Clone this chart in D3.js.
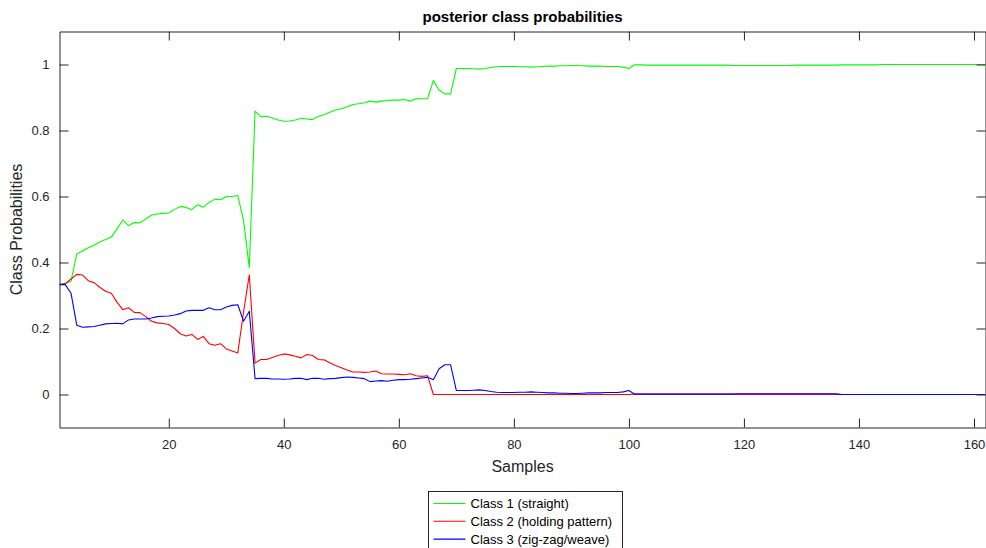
<!DOCTYPE html>
<html>
<head>
<meta charset="utf-8">
<script src="https://cdn.jsdelivr.net/npm/d3@7"></script>
<style>
  html, body { margin: 0; padding: 0; background: #fff; }
  svg { display: block; font-family: Arial, "Liberation Sans", Helvetica, sans-serif; }
</style>
</head>
<body>
<svg id="chart" width="986" height="548"></svg>
<script>
// Posterior class probabilities per sample (samples 1..162)
const classNames = ["Class 1 (straight)", "Class 2 (holding pattern)", "Class 3 (zig-zag/weave)"];
const classColors = ["#00ff00", "#ff0000", "#0000ff"];

const class1 = [
  0.333,0.336,0.343,0.426,0.435,0.445,0.452,0.462,0.470,0.477,
  0.502,0.529,0.512,0.521,0.520,0.532,0.544,0.547,0.549,0.550,
  0.561,0.570,0.567,0.560,0.575,0.568,0.582,0.592,0.590,0.600,
  0.600,0.603,0.527,0.384,0.859,0.842,0.843,0.838,0.832,0.828,
  0.829,0.832,0.837,0.835,0.833,0.843,0.848,0.855,0.862,0.866,
  0.872,0.879,0.881,0.884,0.889,0.886,0.889,0.891,0.892,0.892,
  0.894,0.889,0.896,0.896,0.896,0.952,0.922,0.911,0.911,0.988,
  0.988,0.988,0.987,0.986,0.988,0.991,0.993,0.994,0.994,0.994,
  0.993,0.993,0.992,0.993,0.994,0.995,0.995,0.996,0.996,0.997,
  0.997,0.996,0.995,0.995,0.995,0.994,0.994,0.994,0.992,0.988,
  0.999,0.999,0.998,0.998,0.998,0.998,0.998,0.998,0.998,0.998,
  0.998,0.998,0.998,0.998,0.998,0.998,0.998,0.997,0.997,0.997,
  0.997,0.997,0.997,0.997,0.997,0.997,0.997,0.997,0.998,0.998,
  0.998,0.998,0.998,0.998,0.998,0.998,0.999,0.999,0.999,0.999,
  0.999,0.999,0.999,1.000,1.000,1.000,1.000,1.000,1.000,1.000,
  1.000,1.000,1.000,1.000,1.000,1.000,1.000,1.000,1.000,1.000,
  1.000,1.000
];

const class2 = [
  0.333,0.336,0.350,0.364,0.362,0.345,0.339,0.325,0.313,0.307,
  0.280,0.257,0.263,0.249,0.248,0.236,0.222,0.217,0.215,0.212,
  0.200,0.184,0.177,0.182,0.167,0.176,0.154,0.149,0.154,0.138,
  0.132,0.126,0.250,0.363,0.095,0.106,0.106,0.112,0.118,0.123,
  0.120,0.116,0.111,0.121,0.118,0.106,0.105,0.096,0.088,0.081,
  0.074,0.068,0.068,0.067,0.068,0.071,0.063,0.062,0.062,0.061,
  0.060,0.063,0.057,0.055,0.057,0.000,0.000,0.000,0.000,0.000,
  0.000,0.000,0.000,0.000,0.000,0.000,0.000,0.000,0.000,0.000,
  0.000,0.000,0.000,0.000,0.000,0.000,0.000,0.000,0.000,0.000,
  0.000,0.000,0.000,0.000,0.000,0.000,0.000,0.000,0.000,0.000,
  0.001,0.001,0.001,0.001,0.001,0.001,0.001,0.001,0.001,0.001,
  0.001,0.001,0.001,0.001,0.001,0.001,0.001,0.001,0.002,0.002,
  0.002,0.002,0.002,0.002,0.002,0.002,0.002,0.002,0.002,0.002,
  0.002,0.002,0.002,0.002,0.002,0.002,0.000,0.000,0.000,0.000,
  0.000,0.000,0.000,0.000,0.000,0.000,0.000,0.000,0.000,0.000,
  0.000,0.000,0.000,0.000,0.000,0.000,0.000,0.000,0.000,0.000,
  0.000,0.000
];

const class3 = [
  0.333,0.333,0.307,0.210,0.204,0.205,0.206,0.210,0.214,0.215,
  0.216,0.214,0.226,0.229,0.229,0.229,0.232,0.236,0.237,0.238,
  0.241,0.245,0.253,0.255,0.255,0.255,0.263,0.257,0.257,0.265,
  0.270,0.272,0.222,0.252,0.048,0.049,0.049,0.047,0.047,0.046,
  0.047,0.049,0.049,0.045,0.049,0.049,0.046,0.048,0.049,0.051,
  0.053,0.052,0.050,0.048,0.039,0.041,0.042,0.040,0.043,0.045,
  0.045,0.046,0.048,0.050,0.052,0.045,0.078,0.090,0.090,0.012,
  0.012,0.012,0.013,0.014,0.012,0.009,0.007,0.006,0.006,0.006,
  0.007,0.007,0.008,0.007,0.006,0.005,0.005,0.004,0.004,0.003,
  0.003,0.004,0.005,0.005,0.005,0.006,0.006,0.006,0.008,0.012,
  0.001,0.001,0.001,0.001,0.001,0.001,0.001,0.001,0.001,0.001,
  0.001,0.001,0.001,0.001,0.001,0.001,0.001,0.001,0.001,0.001,
  0.001,0.001,0.001,0.001,0.001,0.001,0.001,0.001,0.001,0.001,
  0.001,0.001,0.001,0.001,0.001,0.001,0.000,0.000,0.000,0.000,
  0.000,0.000,0.000,0.000,0.000,0.000,0.000,0.000,0.000,0.000,
  0.000,0.000,0.000,0.000,0.000,0.000,0.000,0.000,0.000,0.000,
  0.000,0.000
];

const xTicks = [20, 40, 60, 80, 100, 120, 140, 160];
const yTicks = [0, 0.2, 0.4, 0.6, 0.8, 1];
const xDomain = [1, 162];
const yDomain = [-0.1, 1.1];

const titleText = "posterior class probabilities";
const xLabelText = "Samples";
const yLabelText = "Class Probabilities";

const svg = d3.select("#chart");
const axisColor = "#262626";
const plot = { left: 59.5, top: 31.5, right: 985.5, bottom: 427.5 };

const x = d3.scaleLinear().domain(xDomain).range([plot.left, plot.right]);
const y = d3.scaleLinear().domain(yDomain).range([plot.bottom, plot.top]);

// series lines
const series = [class1, class2, class3];
const line = d3.line()
  .x((d, i) => x(i + 1))
  .y(d => y(d));

svg.append("defs").append("clipPath").attr("id", "plotclip")
  .append("rect")
  .attr("x", plot.left).attr("y", plot.top)
  .attr("width", plot.right - plot.left).attr("height", plot.bottom - plot.top);

const lines = svg.append("g").attr("clip-path", "url(#plotclip)");
series.forEach((vals, k) => {
  lines.append("path")
    .datum(vals)
    .attr("fill", "none")
    .attr("stroke", classColors[k])
    .attr("stroke-width", 1.1)
    .attr("stroke-linejoin", "round")
    .attr("d", line);
});

// axes with inward ticks on all four sides
const tickLen = 9;
const styleAxis = g => {
  g.select(".domain").attr("stroke", axisColor).attr("stroke-width", 1);
  g.selectAll(".tick line").attr("stroke", axisColor).attr("stroke-width", 1);
  g.selectAll(".tick text").attr("fill", axisColor)
    .style("font-size", "13px")
    .style("font-family", "Arial, 'Liberation Sans', Helvetica, sans-serif");
};

svg.append("g")
  .attr("transform", `translate(0,${plot.bottom})`)
  .call(d3.axisBottom(x).tickValues(xTicks).tickSizeInner(-tickLen).tickSizeOuter(0).tickPadding(12).tickFormat(d3.format("d")))
  .call(styleAxis);

svg.append("g")
  .attr("transform", `translate(0,${plot.top})`)
  .call(d3.axisTop(x).tickValues(xTicks).tickSizeInner(-tickLen).tickSizeOuter(0).tickFormat(""))
  .call(styleAxis);

svg.append("g")
  .attr("transform", `translate(${plot.left},0)`)
  .call(d3.axisLeft(y).tickValues(yTicks).tickSizeInner(-tickLen).tickSizeOuter(0).tickPadding(10).tickFormat(d => d3.format("")(+d.toFixed(1))))
  .call(styleAxis);

svg.append("g")
  .attr("transform", `translate(${plot.right},0)`)
  .call(d3.axisRight(y).tickValues(yTicks).tickSizeInner(-tickLen).tickSizeOuter(0).tickFormat(""))
  .call(styleAxis);

// title and axis labels
svg.append("text")
  .attr("x", (plot.left + plot.right) / 2)
  .attr("y", 22)
  .attr("text-anchor", "middle")
  .attr("fill", "#000")
  .style("font-size", "15px")
  .style("font-weight", "bold")
  .text(titleText);

svg.append("text")
  .attr("x", (plot.left + plot.right) / 2)
  .attr("y", 472)
  .attr("text-anchor", "middle")
  .attr("fill", axisColor)
  .style("font-size", "16px")
  .text(xLabelText);

svg.append("text")
  .attr("transform", `translate(22,${(plot.top + plot.bottom) / 2}) rotate(-90)`)
  .attr("text-anchor", "middle")
  .attr("fill", axisColor)
  .style("font-size", "16px")
  .text(yLabelText);

// legend
const legend = svg.append("g").attr("transform", "translate(428.5,491.5)");
legend.append("rect")
  .attr("x", 0).attr("y", 0)
  .attr("width", 194).attr("height", 66)
  .attr("fill", "#fff")
  .attr("stroke", axisColor)
  .attr("stroke-width", 1);

classNames.forEach((name, k) => {
  const cy = 12 + k * 17.8;
  legend.append("line")
    .attr("x1", 5).attr("x2", 37)
    .attr("y1", cy).attr("y2", cy)
    .attr("stroke", classColors[k])
    .attr("stroke-width", 1.1);
  legend.append("text")
    .attr("x", 42)
    .attr("y", cy + 4.5)
    .attr("fill", "#000")
    .style("font-size", "13px")
    .text(name);
});
</script>
</body>
</html>
